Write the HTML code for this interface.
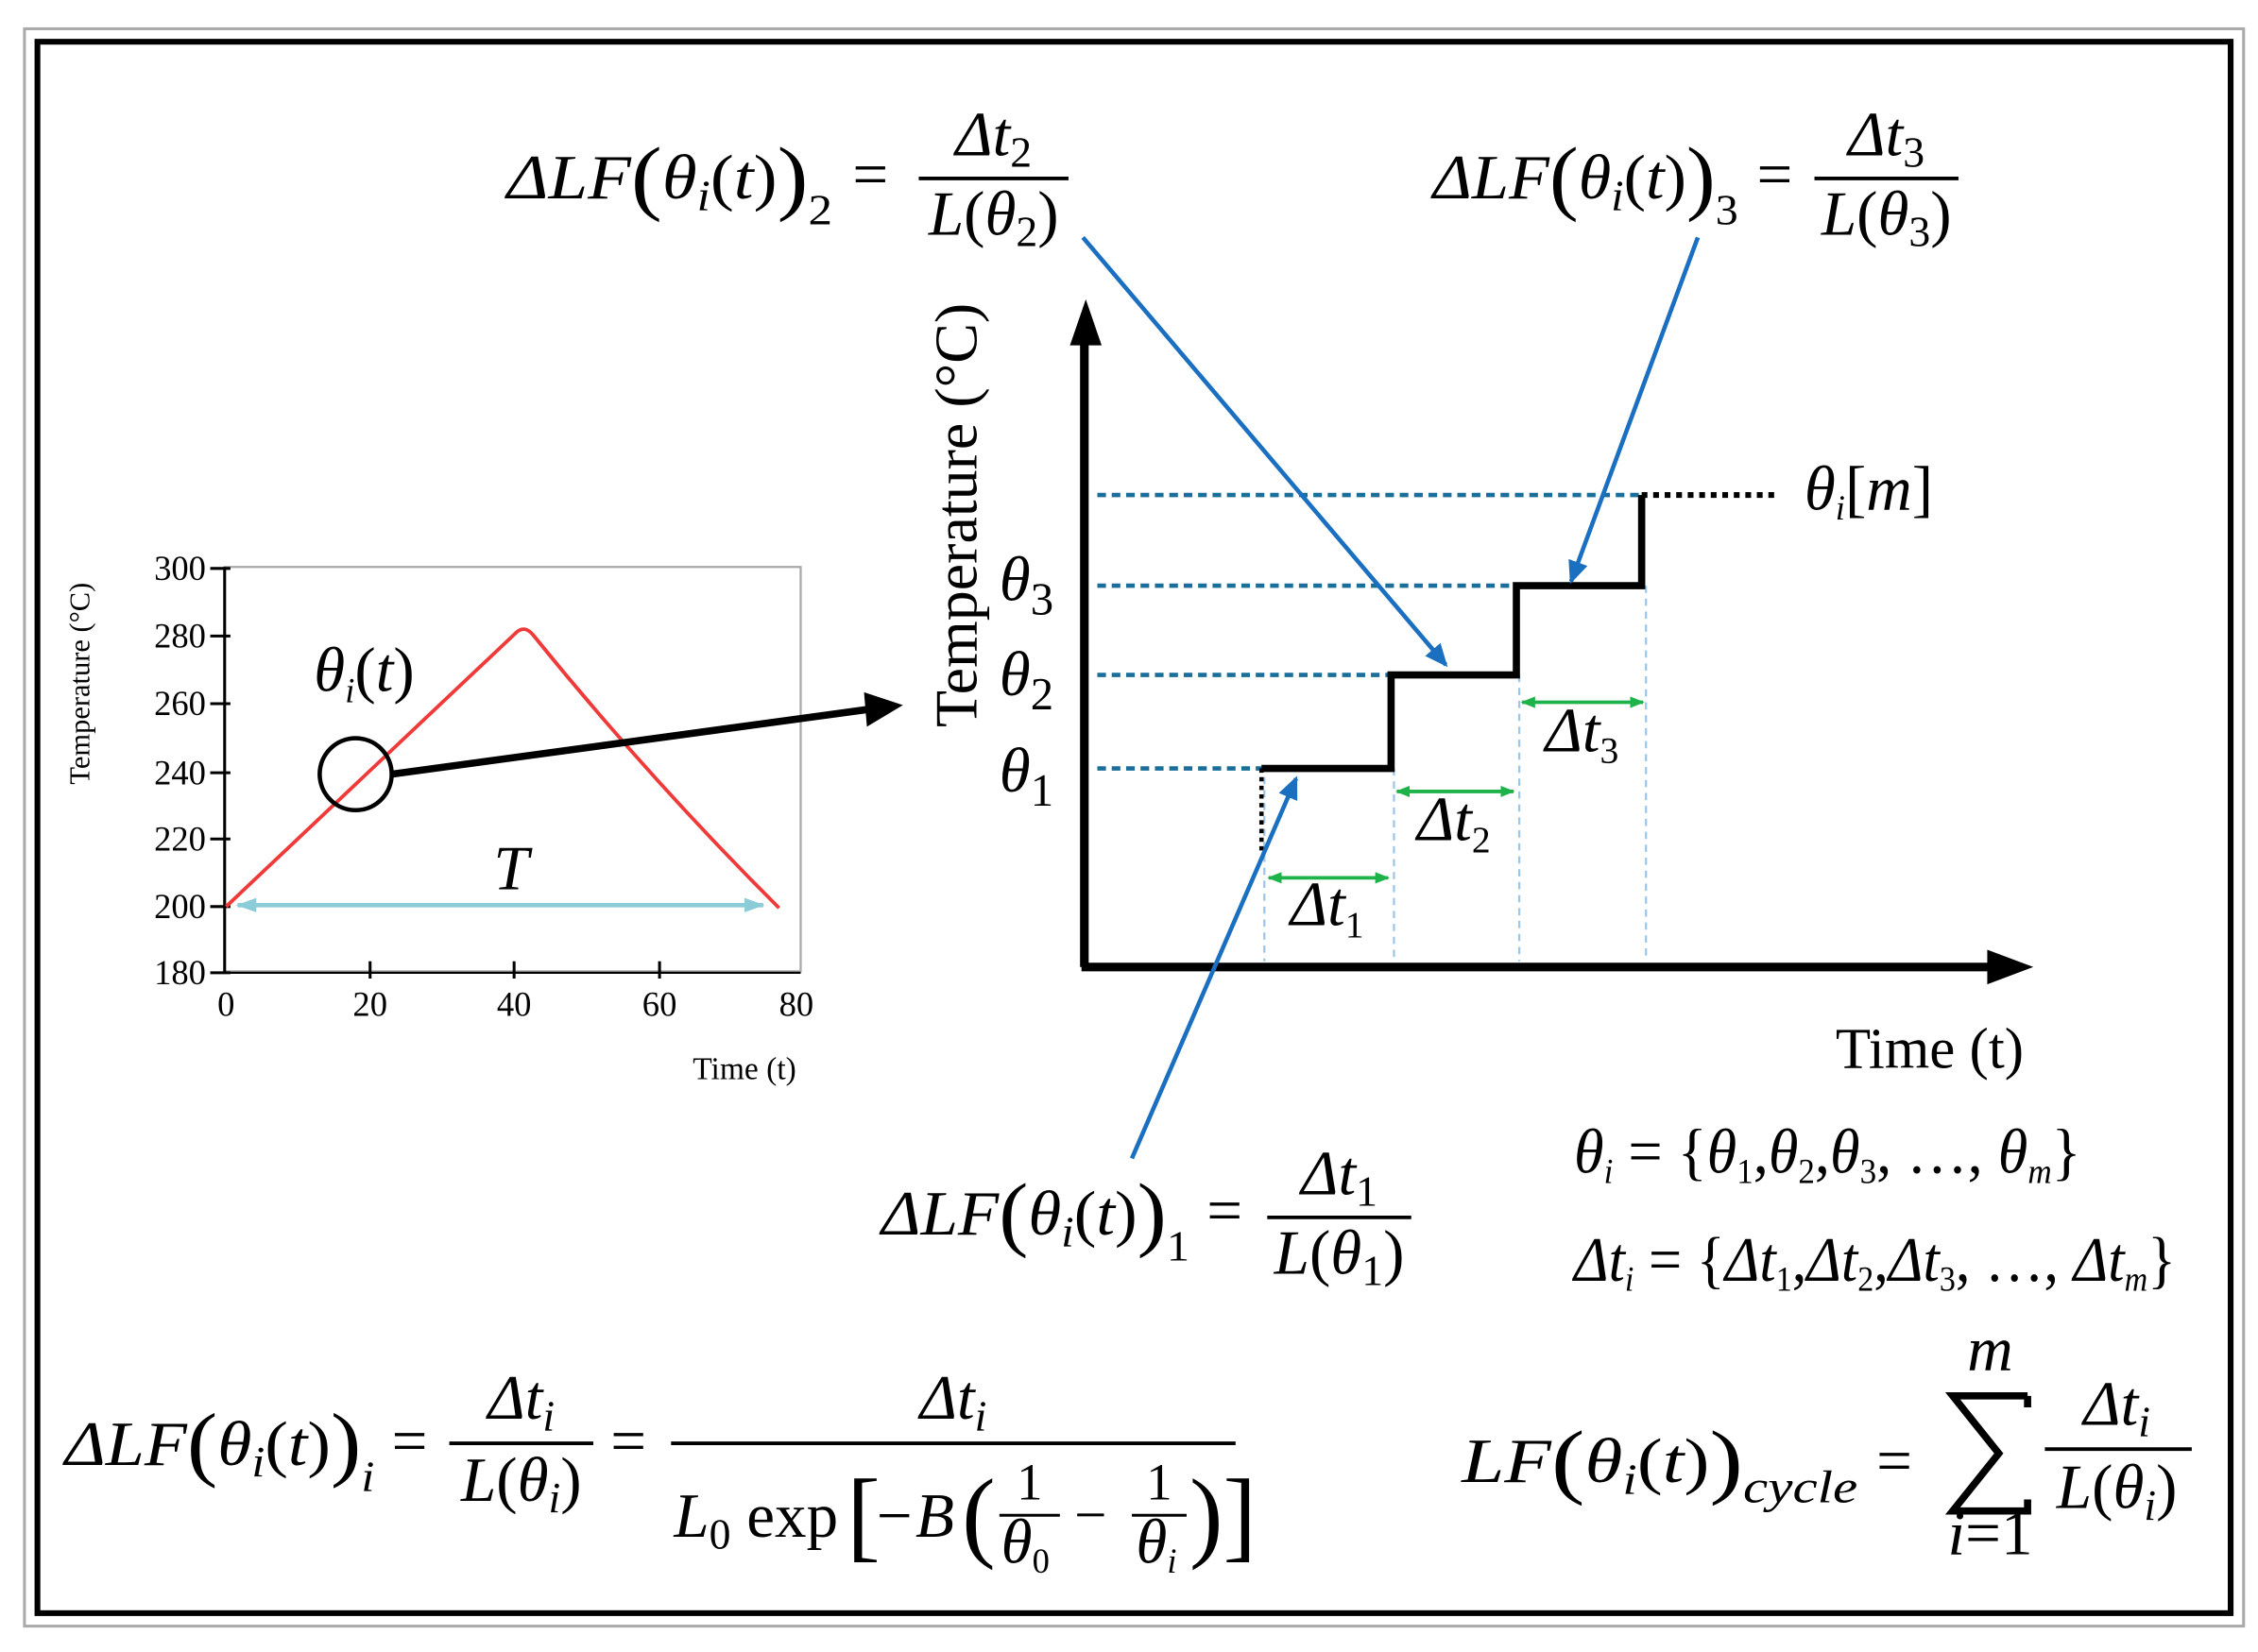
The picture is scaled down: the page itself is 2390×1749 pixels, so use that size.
<!DOCTYPE html>
<html><head><meta charset="utf-8">
<style>
html,body{margin:0;padding:0;background:#fff;}
svg{display:block;}
text{font-family:"Liberation Serif",serif;}
.m{font-style:italic;font-size:44px;}
.u{font-style:normal;}
</style></head><body>
<svg width="2390" height="1749" viewBox="0 0 1568 1148" preserveAspectRatio="none" xmlns="http://www.w3.org/2000/svg">
<defs>
<marker id="abl" markerWidth="16" markerHeight="14" refX="14" refY="7" orient="auto" markerUnits="userSpaceOnUse"><path d="M0,0 L16,7 L0,14 z" fill="#1a6fc0"/></marker>
<marker id="ag" markerWidth="10" markerHeight="8" refX="9" refY="4" orient="auto-start-reverse" markerUnits="userSpaceOnUse"><path d="M0,0 L10,4 L0,8 z" fill="#1db24a"/></marker>
<marker id="alb" markerWidth="14" markerHeight="10" refX="13" refY="5" orient="auto-start-reverse" markerUnits="userSpaceOnUse"><path d="M0,0 L14,5 L0,10 z" fill="#8ccbd8"/></marker>
</defs>
<rect x="0" y="0" width="1568" height="1148" fill="#fff"/>
<rect x="17" y="20" width="1541" height="1110" fill="none" stroke="#aaa" stroke-width="2"/>
<rect x="26" y="29" width="1523" height="1092" fill="none" stroke="#000" stroke-width="4"/>

<!-- small chart -->
<rect x="156" y="394" width="400" height="281" fill="none" stroke="#aaa" stroke-width="1.5"/>
<line x1="156" y1="394" x2="156" y2="676" stroke="#000" stroke-width="2"/>
<line x1="156" y1="676" x2="556" y2="676" stroke="#000" stroke-width="1.5"/>
<g stroke="#000" stroke-width="2">
<line x1="146" y1="395" x2="160" y2="395"/><line x1="146" y1="442" x2="160" y2="442"/><line x1="146" y1="489" x2="160" y2="489"/><line x1="146" y1="537" x2="160" y2="537"/><line x1="146" y1="583" x2="160" y2="583"/><line x1="146" y1="630" x2="160" y2="630"/><line x1="146" y1="676" x2="160" y2="676"/>
<line x1="257" y1="668" x2="257" y2="680"/><line x1="357" y1="668" x2="357" y2="680"/><line x1="458" y1="668" x2="458" y2="680"/>
</g>
<g font-size="24" text-anchor="end">
<text x="143" y="403">300</text><text x="143" y="450">280</text><text x="143" y="497">260</text><text x="143" y="545">240</text><text x="143" y="591">220</text><text x="143" y="638">200</text><text x="143" y="684">180</text>
</g>
<g font-size="24" text-anchor="middle">
<text x="157" y="706">0</text><text x="257" y="706">20</text><text x="357" y="706">40</text><text x="458" y="706">60</text><text x="553" y="706">80</text>
</g>
<text x="517" y="750" font-size="22" text-anchor="middle">Time (t)</text>
<text transform="translate(62,475) rotate(-90)" font-size="20" text-anchor="middle">Temperature (°C)</text>
<path d="M157,630 L358,440 Q364,434 370,441 Q450,540 541,631" fill="none" stroke="#f03a3a" stroke-width="2.5"/>
<line x1="165" y1="629" x2="530" y2="629" stroke="#8ccbd8" stroke-width="3" marker-start="url(#alb)" marker-end="url(#alb)"/>
<text x="355" y="618" class="m" font-size="44" text-anchor="middle">T</text>
<text x="218" y="480" class="m" font-size="34">θ<tspan font-size="24" dy="8">i</tspan><tspan dy="-8" class="u">(</tspan>t<tspan class="u">)</tspan></text>
<circle cx="247" cy="538" r="25" fill="none" stroke="#000" stroke-width="3"/>
<line x1="272" y1="538" x2="610" y2="492" stroke="#000" stroke-width="5"/>
<path d="M600,481 L627,490 L602,505 z" fill="#000"/>

<!-- main chart -->
<g stroke="#1a6f9a" stroke-width="3" stroke-dasharray="6,4">
<line x1="762" y1="344" x2="1140" y2="344"/>
<line x1="762" y1="407" x2="1053" y2="407"/>
<line x1="762" y1="469" x2="966" y2="469"/>
<line x1="762" y1="534" x2="876" y2="534"/>
</g>
<g stroke="#9cc7ea" stroke-width="1.5" stroke-dasharray="5,4">
<line x1="878" y1="540" x2="878" y2="668"/>
<line x1="968" y1="534" x2="968" y2="668"/>
<line x1="1055" y1="469" x2="1055" y2="668"/>
<line x1="1143" y1="407" x2="1143" y2="668"/>
</g>
<path d="M876,534 L966,534 L966,469 L1053,469 L1053,407 L1140,407 L1140,344" fill="none" stroke="#000" stroke-width="5"/>
<line x1="1140" y1="344" x2="1232" y2="344" stroke="#000" stroke-width="4" stroke-dasharray="4,4"/>
<line x1="876" y1="534" x2="876" y2="592" stroke="#000" stroke-width="3" stroke-dasharray="3,3"/>
<line x1="753" y1="672" x2="753" y2="235" stroke="#000" stroke-width="6"/>
<path d="M743,240 L754,208 L765,240 z" fill="#000"/>
<line x1="751" y1="672" x2="1385" y2="672" stroke="#000" stroke-width="6"/>
<path d="M1380,660 L1412,672 L1380,684 z" fill="#000"/>
<g stroke="#1db24a" stroke-width="2.5">
<line x1="881" y1="610" x2="964" y2="610" marker-start="url(#ag)" marker-end="url(#ag)"/>
<line x1="970" y1="550" x2="1051" y2="550" marker-start="url(#ag)" marker-end="url(#ag)"/>
<line x1="1057" y1="488" x2="1141" y2="488" marker-start="url(#ag)" marker-end="url(#ag)"/>
</g>
<text x="896" y="643" class="m" font-size="38">Δt<tspan font-size="26" dy="8" class="u">1</tspan></text>
<text x="984" y="584" class="m" font-size="38">Δt<tspan font-size="26" dy="8" class="u">2</tspan></text>
<text x="1073" y="522" class="m" font-size="38">Δt<tspan font-size="26" dy="8" class="u">3</tspan></text>
<text x="694" y="550" class="m" font-size="50">θ<tspan font-size="32" dy="10" class="u">1</tspan></text>
<text x="694" y="483" class="m" font-size="50">θ<tspan font-size="32" dy="10" class="u">2</tspan></text>
<text x="694" y="417" class="m" font-size="50">θ<tspan font-size="32" dy="10" class="u">3</tspan></text>
<text transform="translate(678,358) rotate(-90)" font-size="42" text-anchor="middle">Temperature (°C)</text>
<text x="1340" y="742" font-size="40" text-anchor="middle">Time (t)</text>
<text x="1253" y="354" class="m" font-size="36">θ<tspan font-size="24" dy="7">i</tspan><tspan dy="-7" class="u">[</tspan>m<tspan class="u">]</tspan></text>

<!-- blue arrows -->
<g stroke="#1a6fc0" stroke-width="3">
<line x1="752" y1="165" x2="1004" y2="462" marker-end="url(#abl)"/>
<line x1="1179" y1="165" x2="1091" y2="404" marker-end="url(#abl)"/>
<line x1="786" y1="805" x2="900" y2="541" marker-end="url(#abl)"/>
</g>

<!-- eq2 -->
<text x="352" y="138" class="m" textLength="226" lengthAdjust="spacingAndGlyphs">ΔLF<tspan class="u" font-size="58" dy="4">(</tspan><tspan dy="-4">θ</tspan><tspan font-size="30" dy="8">i</tspan><tspan class="u" dy="-8">(</tspan>t<tspan class="u">)</tspan><tspan class="u" font-size="58" dy="4">)</tspan><tspan class="u" font-size="30" dy="14">2</tspan></text>
<text x="592" y="136" class="u" font-size="44">=</text>
<line x1="638" y1="124" x2="742" y2="124" stroke="#000" stroke-width="2.5"/>
<text x="690" y="108" class="m" text-anchor="middle">Δt<tspan class="u" font-size="30" dy="8">2</tspan></text>
<text x="690" y="163" class="m" text-anchor="middle">L<tspan class="u">(</tspan>θ<tspan class="u" font-size="30" dy="8">2</tspan><tspan class="u" dy="-8">)</tspan></text>
<!-- eq3 -->
<text x="995" y="138" class="m" textLength="212" lengthAdjust="spacingAndGlyphs">ΔLF<tspan class="u" font-size="58" dy="4">(</tspan><tspan dy="-4">θ</tspan><tspan font-size="30" dy="8">i</tspan><tspan class="u" dy="-8">(</tspan>t<tspan class="u">)</tspan><tspan class="u" font-size="58" dy="4">)</tspan><tspan class="u" font-size="30" dy="14">3</tspan></text>
<text x="1220" y="136" class="u" font-size="44">=</text>
<line x1="1260" y1="124" x2="1360" y2="124" stroke="#000" stroke-width="2.5"/>
<text x="1310" y="108" class="m" text-anchor="middle">Δt<tspan class="u" font-size="30" dy="8">3</tspan></text>
<text x="1310" y="163" class="m" text-anchor="middle">L<tspan class="u">(</tspan>θ<tspan class="u" font-size="30" dy="8">3</tspan><tspan class="u" dy="-8">)</tspan></text>
<!-- eq1 -->
<text x="612" y="858" class="m" textLength="214" lengthAdjust="spacingAndGlyphs">ΔLF<tspan class="u" font-size="58" dy="4">(</tspan><tspan dy="-4">θ</tspan><tspan font-size="30" dy="8">i</tspan><tspan class="u" dy="-8">(</tspan>t<tspan class="u">)</tspan><tspan class="u" font-size="58" dy="4">)</tspan><tspan class="u" font-size="30" dy="14">1</tspan></text>
<text x="838" y="856" class="u" font-size="44">=</text>
<line x1="880" y1="846" x2="980" y2="846" stroke="#000" stroke-width="2.5"/>
<text x="930" y="830" class="m" text-anchor="middle">Δt<tspan class="u" font-size="30" dy="8">1</tspan></text>
<text x="930" y="885" class="m" text-anchor="middle">L<tspan class="u">(</tspan>θ<tspan class="u" font-size="30" dy="8">1</tspan><tspan class="u" dy="-8">)</tspan></text>
<!-- sets -->
<text x="1093" y="815" class="m" font-size="32" textLength="352" lengthAdjust="spacingAndGlyphs">θ<tspan font-size="24" dy="7">i</tspan><tspan class="u" dy="-7"> = {</tspan>θ<tspan class="u" font-size="24" dy="7">1</tspan><tspan class="u" dy="-7">,</tspan>θ<tspan class="u" font-size="24" dy="7">2</tspan><tspan class="u" dy="-7">,</tspan>θ<tspan class="u" font-size="24" dy="7">3</tspan><tspan class="u" dy="-7">, …, </tspan>θ<tspan font-size="24" dy="7">m</tspan><tspan class="u" dy="-7">}</tspan></text>
<text x="1093" y="890" class="m" font-size="32" textLength="418" lengthAdjust="spacingAndGlyphs">Δt<tspan font-size="24" dy="7">i</tspan><tspan class="u" dy="-7"> = {</tspan>Δt<tspan class="u" font-size="24" dy="7">1</tspan><tspan class="u" dy="-7">,</tspan>Δt<tspan class="u" font-size="24" dy="7">2</tspan><tspan class="u" dy="-7">,</tspan>Δt<tspan class="u" font-size="24" dy="7">3</tspan><tspan class="u" dy="-7">, …, </tspan>Δt<tspan font-size="24" dy="7">m</tspan><tspan class="u" dy="-7">}</tspan></text>
<!-- bottom left -->
<text x="45" y="1018" class="m" textLength="215" lengthAdjust="spacingAndGlyphs">ΔLF<tspan class="u" font-size="58" dy="4">(</tspan><tspan dy="-4">θ</tspan><tspan font-size="30" dy="8">i</tspan><tspan class="u" dy="-8">(</tspan>t<tspan class="u">)</tspan><tspan class="u" font-size="58" dy="4">)</tspan><tspan font-size="30" dy="14">i</tspan></text>
<text x="272" y="1016" class="u" font-size="44">=</text>
<line x1="312" y1="1003" x2="412" y2="1003" stroke="#000" stroke-width="2.5"/>
<text x="362" y="986" class="m" text-anchor="middle">Δt<tspan font-size="30" dy="8">i</tspan></text>
<text x="362" y="1043" class="m" text-anchor="middle">L<tspan class="u">(</tspan>θ<tspan font-size="30" dy="8">i</tspan><tspan class="u" dy="-8">)</tspan></text>
<text x="424" y="1016" class="u" font-size="44">=</text>
<line x1="466" y1="1003" x2="858" y2="1003" stroke="#000" stroke-width="2.5"/>
<text x="662" y="986" class="m" text-anchor="middle">Δt<tspan font-size="30" dy="8">i</tspan></text>
<text x="468" y="1068" class="m">L<tspan class="u" font-size="30" dy="8">0</tspan><tspan class="u" dy="-8"> exp</tspan></text>
<text x="588" y="1076" class="u" font-size="70">[</text>
<text x="606" y="1068" class="m">−B</text>
<text x="668" y="1076" class="u" font-size="70">(</text>
<line x1="694" y1="1053" x2="736" y2="1053" stroke="#000" stroke-width="2"/>
<text x="715" y="1042" class="u" font-size="36" text-anchor="middle">1</text>
<text x="712" y="1086" class="m" font-size="36" text-anchor="middle">θ<tspan class="u" font-size="24" dy="7">0</tspan></text>
<text x="746" y="1066" class="u" font-size="40">−</text>
<line x1="786" y1="1053" x2="824" y2="1053" stroke="#000" stroke-width="2"/>
<text x="805" y="1042" class="u" font-size="36" text-anchor="middle">1</text>
<text x="803" y="1086" class="m" font-size="36" text-anchor="middle">θ<tspan font-size="24" dy="7">i</tspan></text>
<text x="826" y="1076" class="u" font-size="70">)]</text>
<!-- bottom right -->
<text x="1015" y="1030" class="m" textLength="275" lengthAdjust="spacingAndGlyphs">LF<tspan class="u" font-size="58" dy="4">(</tspan><tspan dy="-4">θ</tspan><tspan font-size="30" dy="8">i</tspan><tspan class="u" dy="-8">(</tspan>t<tspan class="u">)</tspan><tspan class="u" font-size="58" dy="4">)</tspan><tspan font-size="32" dy="10">cycle</tspan></text>
<text x="1303" y="1030" class="u" font-size="44">=</text>
<path d="M1408,970 L1408,978 M1408,970 L1356,970 L1388,1010 L1356,1050 L1408,1050 L1408,1042" fill="none" stroke="#000" stroke-width="5" stroke-linejoin="miter"/>
<text x="1382" y="952" class="m" font-size="32" text-anchor="middle">m</text>
<text x="1382" y="1080" class="m" font-size="32" text-anchor="middle">i<tspan class="u">=1</tspan></text>
<line x1="1420" y1="1007" x2="1522" y2="1007" stroke="#000" stroke-width="2.5"/>
<text x="1470" y="990" class="m" text-anchor="middle">Δt<tspan font-size="30" dy="8">i</tspan></text>
<text x="1470" y="1048" class="m" text-anchor="middle">L<tspan class="u">(</tspan>θ<tspan font-size="30" dy="8">i</tspan><tspan class="u" dy="-8">)</tspan></text>
</svg>
</body></html>
